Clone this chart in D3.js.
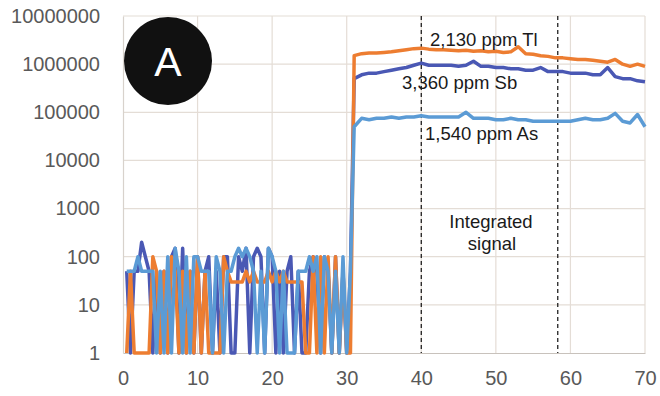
<!DOCTYPE html>
<html>
<head>
  <meta charset="utf-8">
  <script src="https://d3js.org/d3.v7.min.js"></script>
  <style>
    body { margin: 0; background: #fff; }
    text { font-family: "Liberation Sans", Arial, sans-serif; }
    .tick text { fill: #595959; font-size: 20px; }
    .note { fill: #1a1a1a; font-size: 18.5px; }
  </style>
</head>
<body>
<script>
// time (s)
var time = [0.5,1,1.5,2,2.5,3,3.5,4,4.5,5,5.5,6,6.5,7,7.5,8,8.5,9,9.5,10,
  10.5,11,11.5,12,12.5,13,13.5,14,14.5,15,15.5,16,16.5,17,17.5,18,18.5,19,19.5,20,
  20.5,21,21.5,22,22.5,23,23.5,24,24.5,25,25.5,26,26.5,27,27.5,28,28.5,29,29.5,30,30.5,
  31,32,33,34,35,36,37,38,39,40,41,42,43,44,45,46,47,48,49,50,
  51,52,53,54,55,56,57,58,59,60,61,62,63,64,65,66,67,68,69,70];

// counts per series
var sb = [50,1,50,50,200,100,50,1,50,1, 50,1,100,150,1,150,1,50,1,100,
  1,50,100,1,50,1,100,100,1,1, 100,50,150,1,100,150,100,1,150,100,
  1,50,1,50,100,1,50,1,1,50, 100,50,1,100,50,1,100,1,50,1, 50,
  5e5,6e5,6.5e5,6.5e5,7e5,7.5e5,8e5,8.5e5,9.5e5,1.05e6,
  9.5e5,9.5e5,9.5e5,9.5e5,9e5,9.5e5,1.15e6,9e5,9e5,8.5e5,
  8.5e5,8e5,8e5,7.5e5,7.5e5,8.5e5,7e5,7e5,7e5,6.5e5,
  6.5e5,6.5e5,6e5,6e5,8.5e5,5.5e5,5e5,5e5,4.5e5,4.3e5];

var tl = [1,50,1,1,1,1,1,100,50,1, 50,1,100,50,1,50,1,50,1,100,
  1,50,1,1,1,1,100,50, 30,30,30,30,50,30,50,30,30,30, 50,30,50,30,50,30,30,30,30,30,
  1,1,100,1,100,1,100,1,100,1,50,1,1,
  1.5e6,1.65e6,1.7e6,1.7e6,1.75e6,1.8e6,1.9e6,2.0e6,2.1e6,2.15e6,
  2.05e6,2.0e6,2.0e6,1.95e6,1.9e6,1.95e6,1.85e6,1.9e6,1.8e6,1.85e6,
  1.75e6,1.8e6,2.3e6,1.65e6,1.6e6,1.5e6,1.45e6,1.35e6,1.35e6,1.3e6,
  1.25e6,1.25e6,1.2e6,1.15e6,1.1e6,1.25e6,1.0e6,0.9e6,1.0e6,0.9e6];

var as = [50,50,50,100,50,50,50,50,1,50, 1,100,1,150,50,1,100,1,100,100,
  50,50,50,1,100,50,1,50,50,100, 150,100,150,100,50,1,50,1,150,100,
  50,1,50,1,1,1,50,50,50,100, 50,100,1,100,50,1,50,1,100,1, 50,
  5e4,7.5e4,7e4,7.5e4,7.5e4,8e4,7.5e4,8e4,8e4,8.5e4,
  8e4,8e4,8e4,8e4,8e4,1e5,7.5e4,7.5e4,7.5e4,7e4,
  7e4,7.5e4,7e4,7e4,6.5e4,6.5e4,6.5e4,6.5e4,6.5e4,6.5e4,
  7e4,7.5e4,7e4,7e4,7.5e4,9.5e4,6.5e4,6e4,9e4,5e4];

var xTicks = [0,10,20,30,40,50,60,70];
var yTicks = [1,10,100,1000,10000,100000,1000000,10000000];
var windowEdges = [40, 58.3];

var width = 660, height = 396;
var plotLeft = 123, plotRight = 645, plotTop = 16, plotBottom = 353;

var svg = d3.select("body").append("svg")
  .attr("width", width).attr("height", height);

var x = d3.scaleLinear().domain([0, 70]).range([plotLeft, plotRight]);
var y = d3.scaleLog().domain([1, 1e7]).range([plotBottom, plotTop]);

// grid
svg.append("g").selectAll("line").data(yTicks.slice(1)).enter().append("line")
  .attr("x1", plotLeft).attr("x2", plotRight)
  .attr("y1", function(d) { return y(d); }).attr("y2", function(d) { return y(d); })
  .attr("stroke", "#e4ddd6").attr("stroke-width", 1.2);
svg.append("g").selectAll("line").data(xTicks.slice(1)).enter().append("line")
  .attr("y1", plotTop).attr("y2", plotBottom)
  .attr("x1", function(d) { return x(d); }).attr("x2", function(d) { return x(d); })
  .attr("stroke", "#e4ddd6").attr("stroke-width", 1.2);

// axes
var xAxis = d3.axisBottom(x).tickValues(xTicks).tickSize(0).tickPadding(18);
svg.append("g").attr("transform", "translate(0," + plotBottom + ")").call(xAxis)
  .call(function(g) { g.select(".domain").attr("stroke", "#c8c2bc").attr("stroke-width", 1.2); });

var yAxis = d3.axisLeft(y).tickValues(yTicks).tickFormat(d3.format("d")).tickSize(0).tickPadding(23);
svg.append("g").attr("transform", "translate(" + plotLeft + ",0)").call(yAxis)
  .call(function(g) { g.select(".domain").attr("stroke", "#d8d2cc").attr("stroke-width", 1.2); });

svg.selectAll(".tick text").style("font-family", "'Liberation Sans', Arial, sans-serif");

// integration window
svg.append("g").selectAll("line").data(windowEdges).enter().append("line")
  .attr("x1", function(d) { return x(d); }).attr("x2", function(d) { return x(d); })
  .attr("y1", plotTop).attr("y2", plotBottom)
  .attr("stroke", "#222").attr("stroke-width", 1.3).attr("stroke-dasharray", "4,3");

// series
var series = [
  { name: "Sb", values: sb, color: "#4a58b4" },
  { name: "Tl", values: tl, color: "#ed7d31" },
  { name: "As", values: as, color: "#5b9bd5" }
];
var line = d3.line()
  .x(function(d, i) { return x(time[i]); })
  .y(function(d) { return y(d); });

svg.append("g").selectAll("path").data(series).enter().append("path")
  .attr("d", function(s) { return line(s.values); })
  .attr("fill", "none")
  .attr("stroke", function(s) { return s.color; })
  .attr("stroke-width", 3.5)
  .attr("stroke-linejoin", "round");

// annotations
var notes = [
  { t: "2,130 ppm Tl", x: 430, y: 46 },
  { t: "3,360 ppm Sb", x: 402, y: 89 },
  { t: "1,540 ppm As", x: 425, y: 140 }
];
svg.append("g").selectAll("text").data(notes).enter().append("text")
  .attr("class", "note")
  .attr("x", function(d) { return d.x; }).attr("y", function(d) { return d.y; })
  .text(function(d) { return d.t; });

svg.append("text").attr("class", "note").attr("text-anchor", "middle")
  .attr("x", 491).attr("y", 228).text("Integrated");
svg.append("text").attr("class", "note").attr("text-anchor", "middle")
  .attr("x", 492).attr("y", 250).text("signal");

// panel label
svg.append("circle").attr("cx", 168).attr("cy", 61).attr("r", 44).attr("fill", "#111");
svg.append("text").attr("x", 168).attr("y", 76).attr("text-anchor", "middle")
  .attr("fill", "#fff").style("font-size", "41px").text("A");
</script>
</body>
</html>
